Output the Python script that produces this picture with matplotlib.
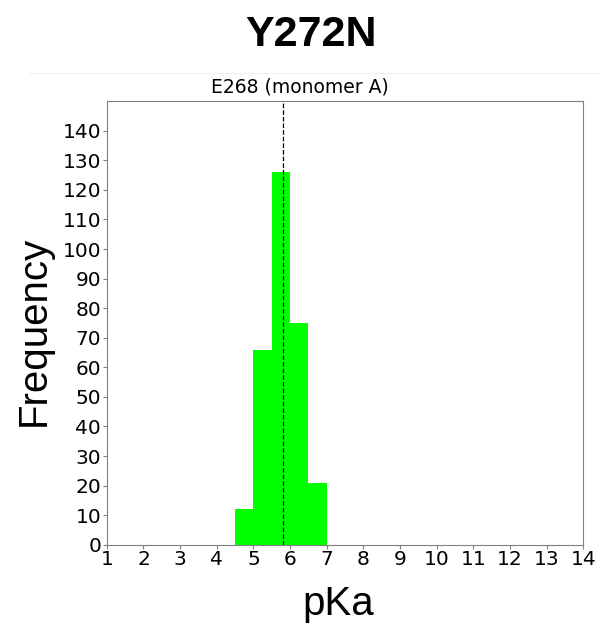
import numpy as np
import matplotlib.pyplot as plt
from matplotlib.lines import Line2D

# histogram bins (pKa) and counts
bin_edges = [4.5, 5.0, 5.5, 6.0, 6.5, 7.0]
counts = [12, 66, 126, 75, 21]
mean_pka = 5.8

x_ticks = list(range(1, 15))
y_ticks = list(range(0, 150, 10))

fig = plt.figure(figsize=(6, 6.32), dpi=100)
ax = fig.add_axes([0.178, 0.138, 0.794, 0.702])

lefts = np.array(bin_edges[:-1])
widths = np.diff(bin_edges)
ax.bar(lefts, counts, width=widths, align='edge', color='#00ff00', linewidth=0)
ax.axvline(mean_pka, color='black', linestyle='--', linewidth=0.9)

ax.set_xlim(1, 14)
ax.set_ylim(0, 150)
ax.set_xticks(x_ticks)
ax.set_yticks(y_ticks)
ax.tick_params(labelsize=14.5, color='gray', length=3, pad=1)
for s in ax.spines.values():
    s.set_color('gray')

# faint separator line left over from the panel composite
fig.add_artist(Line2D([0.05, 1.0], [0.884, 0.884], color='#f2f2f2', linewidth=1))

fig.text(0.50, 0.862, "E268 (monomer A)", ha='center', va='center', fontsize=13.5)
fig.text(0.057, 0.476, "Frequency", ha='center', va='center', rotation=90,
         fontsize=29, family='Liberation Sans')
fig.text(0.563, 0.045, "pKa", ha='center', va='center', fontsize=29,
         family='Liberation Sans')
fig.text(0.518, 0.945, "Y272N", ha='center', va='center', fontsize=31,
         fontweight='bold', family='Liberation Sans')

fig.savefig("out.png", dpi=100)
